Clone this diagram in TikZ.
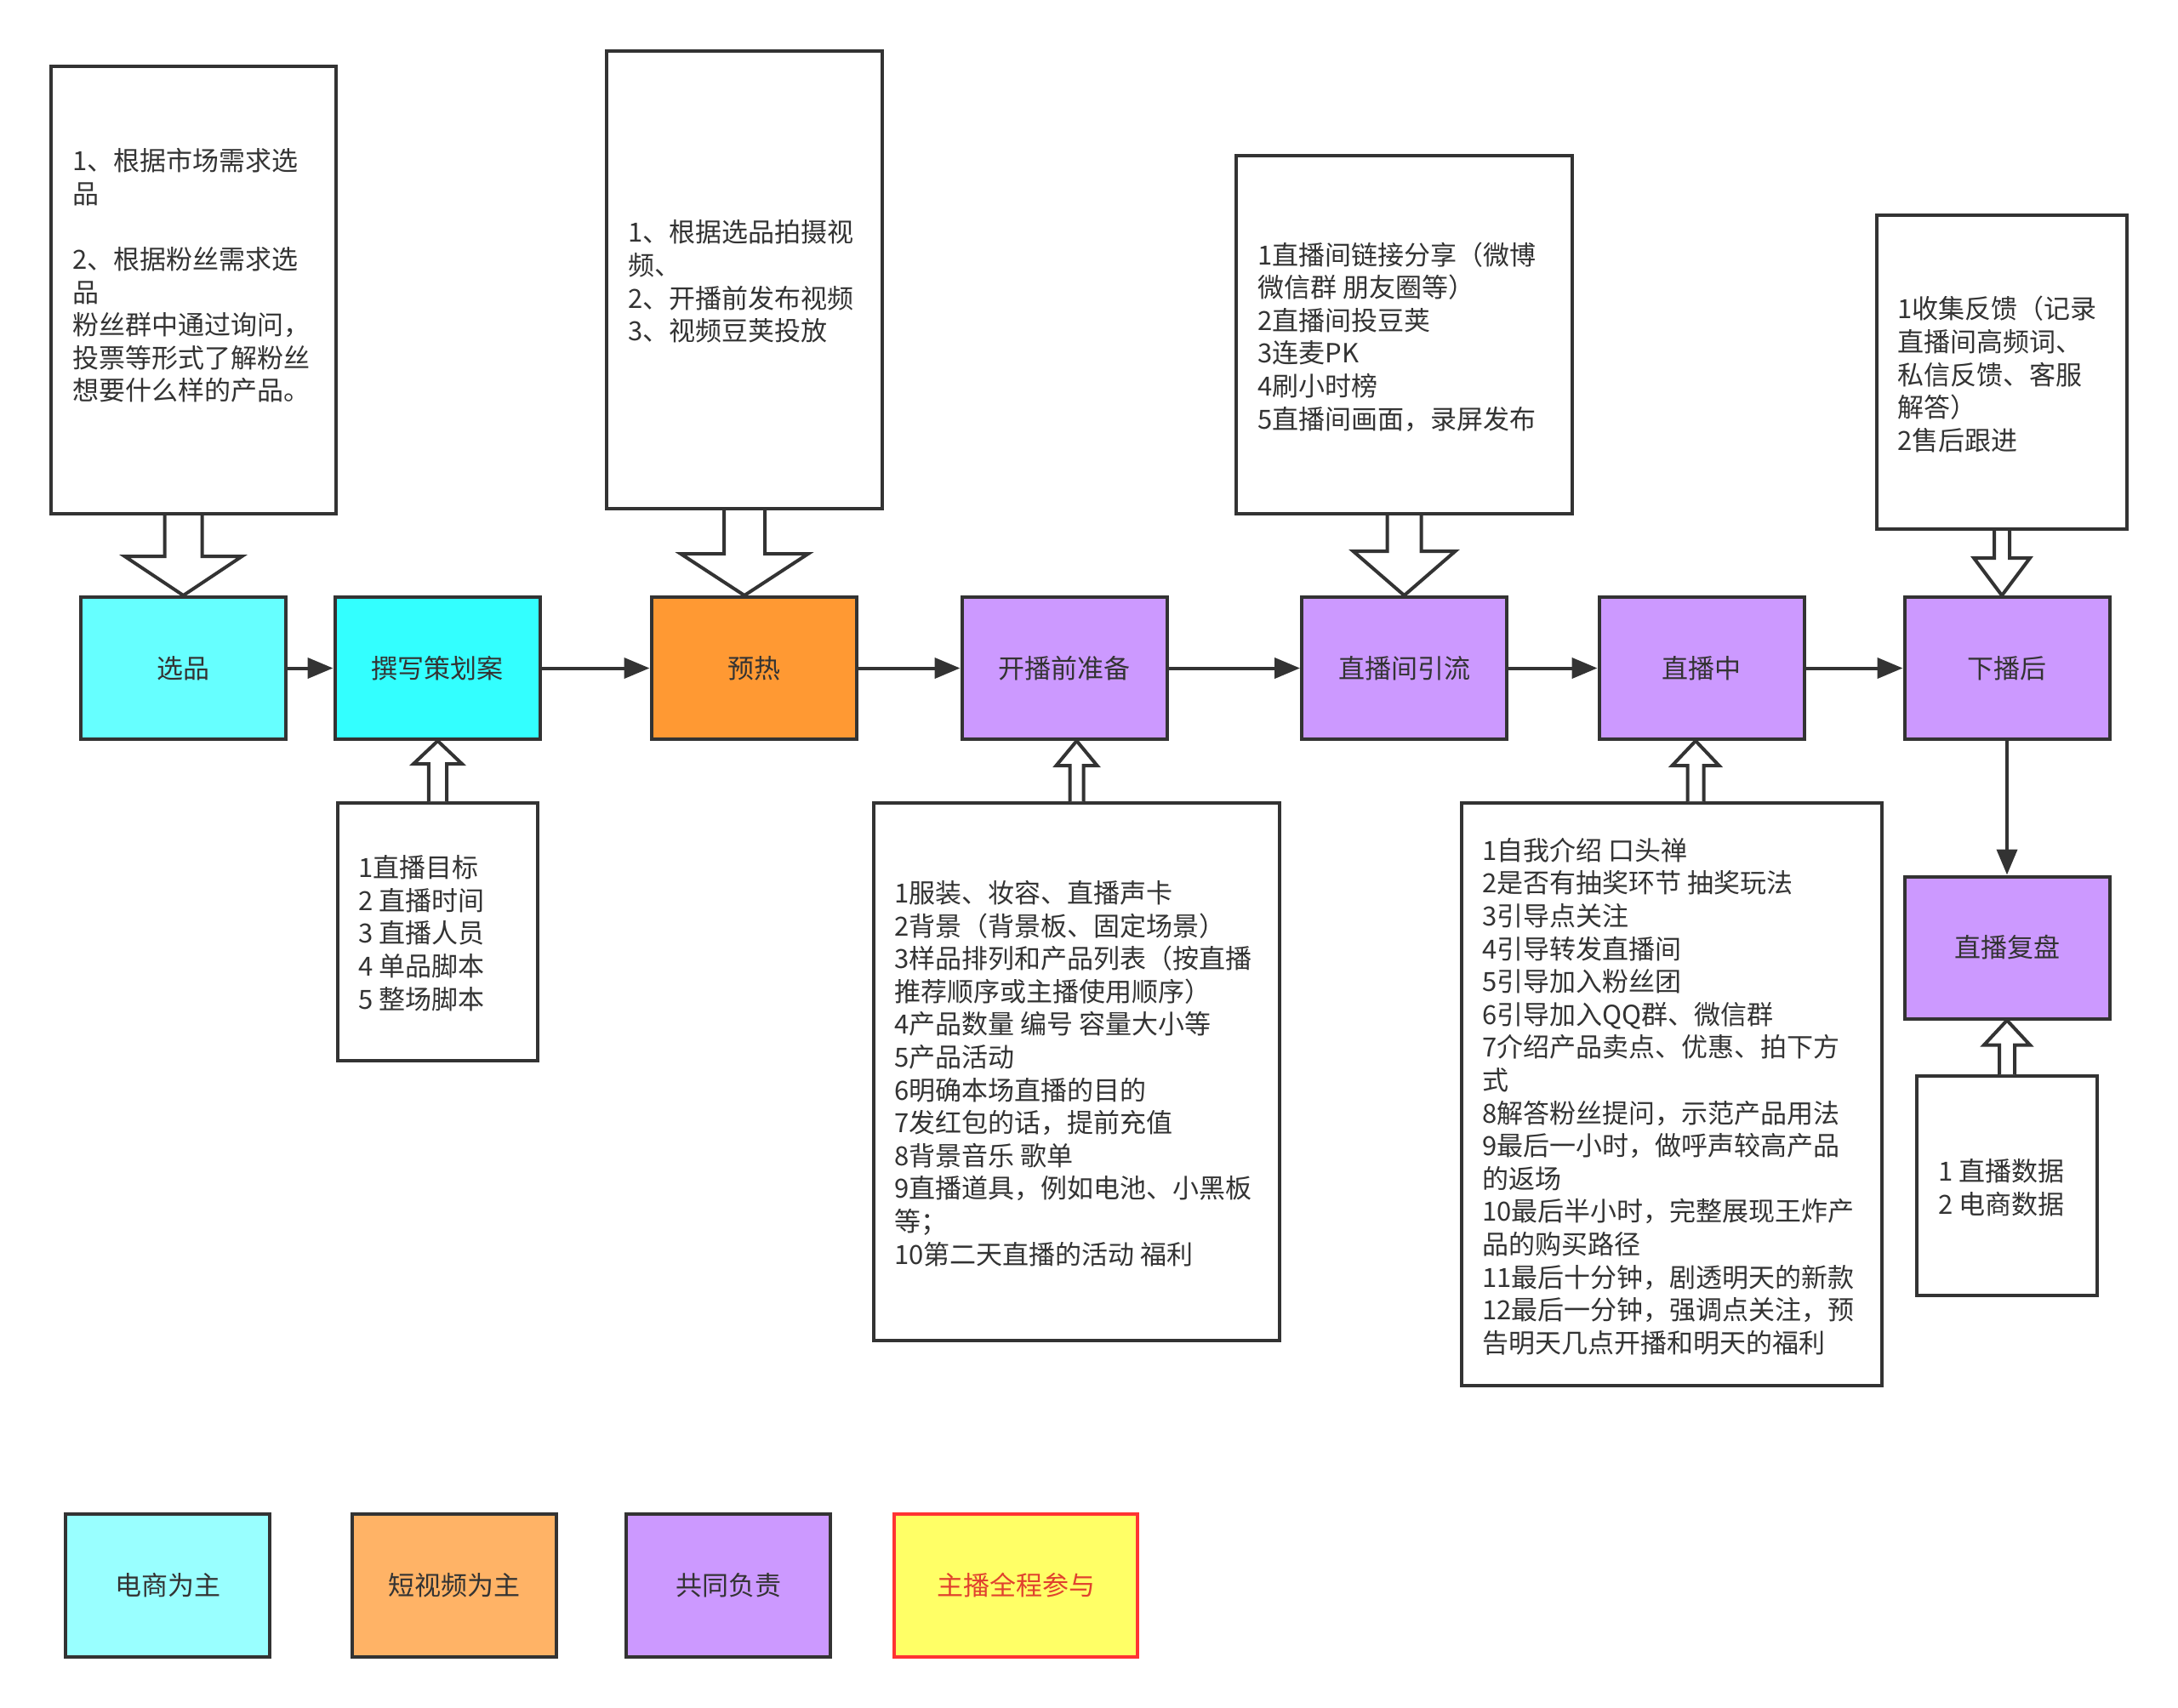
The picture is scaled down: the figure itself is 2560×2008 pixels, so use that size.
\documentclass[tikz,border=0pt]{standalone}
\usepackage{fontspec}
\setmainfont{Noto Sans CJK SC}
\usetikzlibrary{arrows.meta,calc}
\definecolor{ink}{HTML}{333333}
\definecolor{cyanA}{HTML}{66FFFF}
\definecolor{cyanB}{HTML}{33FFFF}
\definecolor{orangeA}{HTML}{FF9933}
\definecolor{purpleA}{HTML}{CC99FF}
\definecolor{legcyan}{HTML}{99FFFF}
\definecolor{legorange}{HTML}{FFB366}
\definecolor{legyellow}{HTML}{FFFF66}
\definecolor{legred}{HTML}{FF3333}
\definecolor{legtext}{HTML}{E0412E}
\newcommand\hollowarr[5]{%
  \draw[hollow] let \p1=(#1), \p2=(#2) in
    (\x1-#3,\y1) -- (\x1-#3,\y2+#5) -- (\x1-#4,\y2+#5) -- (\x1,\y2)
    -- (\x1+#4,\y2+#5) -- (\x1+#3,\y2+#5) -- (\x1+#3,\y1);}
\begin{document}
\begin{tikzpicture}[x=0.5pt,y=-0.5pt,
  font=\fontsize{15.5pt}{19.3pt}\selectfont,
  stage/.style={draw=ink, line width=2pt, minimum width=120.5pt, minimum height=83.5pt, inner sep=0pt, text=ink},
  legend/.style={draw=ink, line width=2pt, minimum width=120pt, minimum height=84pt, inner sep=0pt, text=ink},
  note/.style={draw=ink, line width=2pt, fill=white, inner sep=0pt},
  txt/.style={align=left, anchor=west, inner sep=0pt, text=ink},
  flow/.style={draw=ink, line width=2pt, -{Triangle[length=15pt,width=12pt]}},
  hollow/.style={draw=ink, line width=2pt, fill=white, line join=miter}]
\useasboundingbox (0,0) rectangle (2560,2008);
\fill[white] (0,0) rectangle (2560,2008);

% main stages
\node[stage, fill=cyanA] (m1) at (215.5,785.5) {选品};
\node[stage, fill=cyanB] (m2) at (514,785.5) {撰写策划案};
\node[stage, fill=orangeA] (m3) at (886,785.5) {预热};
\node[stage, fill=purpleA] (m4) at (1251,785.5) {开播前准备};
\node[stage, fill=purpleA] (m5) at (1650.5,785.5) {直播间引流};
\node[stage, fill=purpleA] (m6) at (2000,785.5) {直播中};
\node[stage, fill=purpleA] (m7) at (2359,785.5) {下播后};
\node[stage, fill=purpleA] (m8) at (2359,1114) {直播复盘};

% note boxes
\node[note, minimum width=167.5pt, minimum height=263pt] (n1) at (227.5,341) {};
\node[note, minimum width=162pt, minimum height=269pt] (n2) at (875,329) {};
\node[note, minimum width=197.5pt, minimum height=210.5pt] (n3) at (1650.5,393.5) {};
\node[note, minimum width=147pt, minimum height=184.5pt] (n4) at (2353,437.5) {};
\node[note, minimum width=117.5pt, minimum height=151.5pt] (s1) at (514.5,1095.5) {};
\node[note, minimum width=238.5pt, minimum height=316pt] (s2) at (1265.5,1260) {};
\node[note, minimum width=247pt, minimum height=342.5pt] (s3) at (1965,1286.5) {};
\node[note, minimum width=106pt, minimum height=129pt] (s4) at (2359,1394) {};

% note texts
\node[txt] (t1) at (85,324) {1、根据市场需求选\\品\\[19.3pt]2、根据粉丝需求选\\品\\粉丝群中通过询问，\\投票等形式了解粉丝\\想要什么样的产品。};
\node[txt] (t2) at (738,331) {1、根据选品拍摄视\\频、\\2、开播前发布视频\\3、视频豆荚投放};
\node[txt] (t3) at (1478,396) {1直播间链接分享（微博\\微信群 朋友圈等）\\2直播间投豆荚\\3连麦PK\\4刷小时榜\\5直播间画面，录屏发布};
\node[txt] (t4) at (2230,440) {1收集反馈（记录\\直播间高频词、\\私信反馈、客服\\解答）\\2售后跟进};
\node[txt] (u1) at (421,1097) {1直播目标\\2 直播时间\\3 直播人员\\4 单品脚本\\5 整场脚本};
\node[txt] (u2) at (1051,1262) {1服装、妆容、直播声卡\\2背景（背景板、固定场景）\\3样品排列和产品列表（按直播\\推荐顺序或主播使用顺序）\\4产品数量 编号 容量大小等\\5产品活动\\6明确本场直播的目的\\7发红包的话，提前充值\\8背景音乐 歌单\\9直播道具，例如电池、小黑板\\等；\\10第二天直播的活动 福利};
\node[txt] (u3) at (1742,1289) {1自我介绍 口头禅\\2是否有抽奖环节 抽奖玩法\\3引导点关注\\4引导转发直播间\\5引导加入粉丝团\\6引导加入QQ群、微信群\\7介绍产品卖点、优惠、拍下方\\式\\8解答粉丝提问，示范产品用法\\9最后一小时，做呼声较高产品\\的返场\\10最后半小时，完整展现王炸产\\品的购买路径\\11最后十分钟，剧透明天的新款\\12最后一分钟，强调点关注，预\\告明天几点开播和明天的福利};
\node[txt] (u4) at (2278,1396) {1 直播数据\\2 电商数据};

% flow arrows
\draw[flow] (m1) -- (m2);
\draw[flow] (m2) -- (m3);
\draw[flow] (m3) -- (m4);
\draw[flow] (m4) -- (m5);
\draw[flow] (m5) -- (m6);
\draw[flow] (m6) -- (m7);
\draw[flow] (m7) -- (m8);

% hollow block arrows (down)
\hollowarr{n1.south -| m1.north}{m1.north}{11pt}{34.5pt}{23pt}
\hollowarr{n2.south}{m3.north}{12pt}{37.5pt}{24.5pt}
\hollowarr{n3.south}{m5.north}{10pt}{30pt}{26pt}
\hollowarr{n4.south}{m7.north}{4.5pt}{16.5pt}{22pt}
% hollow block arrows (up)
\hollowarr{s1.north}{m2.south}{5.3pt}{14.25pt}{-13.5pt}
\hollowarr{s2.north}{m4.south}{4pt}{12pt}{-14.5pt}
\hollowarr{$(s3.north -| m6.south)+(-7,0)$}{m6.south}{4.75pt}{13.75pt}{-14.5pt}
\hollowarr{s4.north}{m8.south}{4.5pt}{13.5pt}{-14.5pt}

% legend
\node[legend, fill=legcyan] (l1) at (197,1864) {电商为主};
\node[legend, fill=legorange] (l2) at (534,1864) {短视频为主};
\node[legend, fill=purpleA] (l3) at (856,1864) {共同负责};
\node[legend, fill=legyellow, draw=legred, text=legtext, minimum width=143pt] (l4) at (1194,1864) {主播全程参与};
\end{tikzpicture}
\end{document}
